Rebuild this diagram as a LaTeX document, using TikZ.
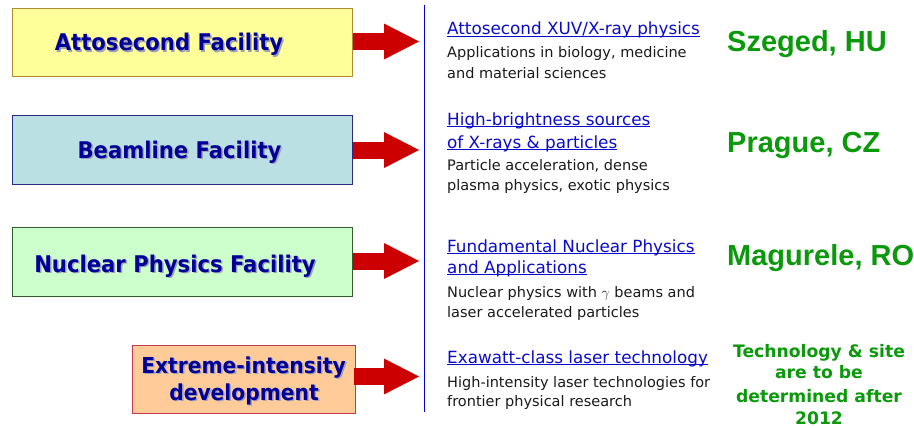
\documentclass[tikz,border=0pt]{standalone}
\usepackage{fontspec}
\usetikzlibrary{arrows.meta}
\newfontfamily\tah{DejaVu Sans}
\newfontfamily\tahb{DejaVu Sans}[FakeStretch=0.92]
\newfontfamily\arl{Liberation Sans}
\definecolor{navy}{HTML}{000099}
\definecolor{shadowgray}{HTML}{A0A0B8}
\definecolor{linkblue}{HTML}{0A0ACC}
\definecolor{desctext}{HTML}{1A1A1A}
\definecolor{sitegreen}{HTML}{0A990A}
\definecolor{arrowred}{HTML}{CC0000}
\definecolor{vline}{HTML}{0000DD}
\definecolor{yfill}{HTML}{FFFF99}\definecolor{ydraw}{HTML}{B08A30}
\definecolor{bfill}{HTML}{BBE0E3}\definecolor{bdraw}{HTML}{2A2A80}
\definecolor{gfill}{HTML}{CCFFCC}\definecolor{gdraw}{HTML}{2F5F2F}
\definecolor{ofill}{HTML}{FFCC99}\definecolor{odraw}{HTML}{C03A50}
\newcommand\shd[1]{\leavevmode\rlap{\kern1.5pt\raisebox{-1.5pt}{\textcolor{shadowgray}{#1}}}#1}
\newcommand\lnk[1]{\setbox0\hbox{#1}\rlap{\rule[-2.4pt]{\wd0}{1pt}}\box0}
\begin{document}
\begin{tikzpicture}[x=1pt,y=-1pt,
  facility/.style={draw, line width=1pt, inner sep=0pt},
  boxtext/.style={anchor=base, inner sep=0pt, text=navy, font=\tahb\bfseries\fontsize{23}{26}\selectfont},
  smallboxtext/.style={boxtext, font=\tahb\bfseries\fontsize{22}{26}\selectfont},
  bigarrow/.style={draw=arrowred, line width=17pt, -{Triangle[length=36pt,width=33pt]}},
  link/.style={anchor=base west, inner sep=0pt, text=linkblue, font=\tah\fontsize{16.8}{19}\selectfont},
  desc/.style={anchor=base west, inner sep=0pt, text=desctext, font=\tah\fontsize{14.5}{18}\selectfont},
  site/.style={anchor=base west, inner sep=0pt, text=sitegreen, font=\arl\bfseries\fontsize{29}{32}\selectfont},
  tbd/.style={anchor=base, inner sep=0pt, text=sitegreen, font=\tah\bfseries\fontsize{17.2}{20}\selectfont}]
\useasboundingbox (0,0) rectangle (914,428);
% boxes
\node[facility, fill=yfill, draw=ydraw, minimum width=340pt, minimum height=68pt] (b1) at (182,43) {};
\node[facility, fill=bfill, draw=bdraw, minimum width=340pt, minimum height=68pt] (b2) at (182,150) {};
\node[facility, fill=gfill, draw=gdraw, minimum width=340pt, minimum height=69pt] (b3) at (182,261.5) {};
\node[facility, fill=ofill, draw=odraw, minimum width=223pt, minimum height=68pt] (b4) at (243.5,379) {};
% box texts
\node[boxtext] (t1) at (169,51) {\shd{Attosecond Facility}};
\node[boxtext] (t2) at (179.5,158) {\shd{Beamline Facility}};
\node[boxtext] (t3) at (175,272) {\shd{Nuclear Physics Facility}};
\node[smallboxtext] (t4a) at (243.5,373) {\shd{Extreme-intensity}};
\node[smallboxtext] (t4b) at (244,400) {\shd{development}};
% arrows
\coordinate (a1) at (420,41.5);
\coordinate (a2) at (420,150);
\coordinate (a3) at (420,261);
\coordinate (a4) at (420,376.5);
\draw[bigarrow] (b1.east |- a1) -- (a1);
\draw[bigarrow] (b2.east |- a2) -- (a2);
\draw[bigarrow] (b3.east |- a3) -- (a3);
\draw[bigarrow] ([xshift=-2pt]b4.east |- a4) -- (a4);
% vertical line
\coordinate (vt) at (424.5,5);
\coordinate (vb) at (424.5,412);
\draw[vline, line width=1.5pt] (vt) -- (vb);
% group 1
\node[link] (l1) at (447,35) {\lnk{Attosecond XUV/X-ray physics}};
\node[desc] (d1a) at (447,58) {Applications in biology, medicine};
\node[desc] (d1b) at (447,78) {and material sciences};
% group 2
\node[link] (l2a) at (447,125) {\lnk{High-brightness sources}};
\node[link] (l2b) at (447,148) {\lnk{of X-rays \& particles}};
\node[desc] (d2a) at (447,171) {Particle acceleration, dense};
\node[desc] (d2b) at (447,190) {plasma physics, exotic physics};
% group 3
\node[link] (l3a) at (447,252) {\lnk{Fundamental Nuclear Physics}};
\node[link] (l3b) at (447,273) {\lnk{and Applications}};
\node[desc] (d3a) at (447,297) {Nuclear physics with $\gamma$ beams and};
\node[desc] (d3b) at (447,317) {laser accelerated particles};
% group 4
\node[link] (l4) at (447,363) {\lnk{Exawatt-class laser technology}};
\node[desc] (d4a) at (447,387) {High-intensity laser technologies for};
\node[desc] (d4b) at (447,406) {frontier physical research};
% sites
\node[site] (s1) at (727,52) {Szeged, HU};
\node[site] (s2) at (727,152) {Prague, CZ};
\node[site] (s3) at (727,265) {Magurele, RO};
\node[tbd] (s4a) at (819,357) {Technology \& site};
\node[tbd] (s4b) at (819,378) {are to be};
\node[tbd] (s4c) at (819,402) {determined after};
\node[tbd] (s4d) at (819,424) {2012};
\end{tikzpicture}
\end{document}
